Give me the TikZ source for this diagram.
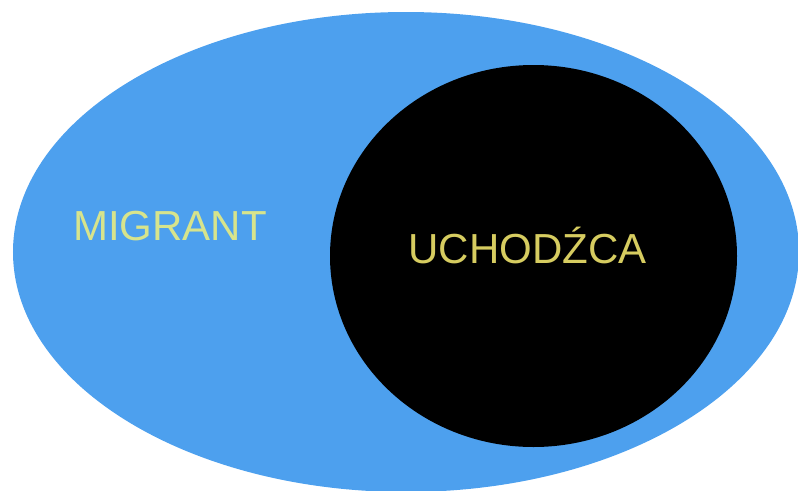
\documentclass[tikz,border=0pt]{standalone}
\usepackage{fontspec}
\setmainfont{Liberation Sans}
\definecolor{setblue}{RGB}{77,160,238}
\definecolor{migrantyellow}{RGB}{215,228,140}
\definecolor{refugeeyellow}{RGB}{214,204,96}

\begin{document}
\begin{tikzpicture}[label/.style={anchor=base, inner sep=0pt, font=\fontsize{23.9}{28}\selectfont}]
        \useasboundingbox (0,0) rectangle (15.96,9.8);
        \fill[setblue] (8.12,4.76) ellipse [x radius=7.86, y radius=4.8];
        \fill[black] (10.67,4.68) ellipse [x radius=4.07, y radius=3.82];

        \node[label, text=migrantyellow] (migrant) at (3.4,5.0) {MIGRANT};
        \node[label, text=refugeeyellow] (uchodzca) at (10.55,4.54) {UCHODŹCA};
    \end{tikzpicture}
\end{document}
